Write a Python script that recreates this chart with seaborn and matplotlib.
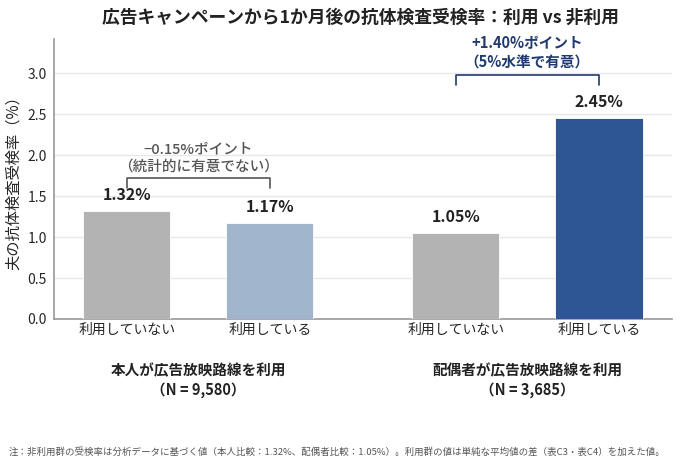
import numpy as np
import pandas as pd
import matplotlib.pyplot as plt
import seaborn as sns

# data
groups = ['本人が広告放映路線を利用\n（N = 9,580）', '配偶者が広告放映路線を利用\n（N = 3,685）']
tick_labels = ['利用していない', '利用している', '利用していない', '利用している']
rates = [1.32, 1.17, 1.05, 2.45]
diff_labels = ['−0.15%ポイント\n（統計的に有意でない）', '+1.40%ポイント\n（5%水準で有意）']
bar_pos = [0, 1, 2.3, 3.3]
colors = ['#b3b3b3', '#a0b5cc', '#b3b3b3', '#2e5594']

sns.set_style('white')
plt.rcParams['font.family'] = ['Noto Sans CJK JP', 'DejaVu Sans']

df = pd.DataFrame({'pos': bar_pos, 'rate': rates, 'label': tick_labels})

fig = plt.figure(figsize=(6.8, 4.65), dpi=100)
ax = fig.add_axes([0.079, 0.314, 0.909, 0.602])

ax.bar(df['pos'], df['rate'], width=0.61, color=colors, edgecolor='white', linewidth=0.6, zorder=3)

ax.set_xlim(-0.51, 3.81)
ax.set_ylim(0, 3.42)
ax.set_yticks(np.arange(0, 3.01, 0.5))
ax.set_yticklabels([f'{v:.1f}' for v in np.arange(0, 3.01, 0.5)], fontsize=10)
ax.set_xticks(bar_pos)
ax.set_xticklabels(tick_labels, fontsize=10)
ax.tick_params(axis='x', length=0, pad=3)
ax.tick_params(axis='y', length=3, color='#555555', pad=2)
ax.grid(axis='y', color='#e8e8e8', linewidth=1, zorder=0)
ax.set_ylabel('夫の抗体検査受検率（%）', fontsize=11, labelpad=4)
sns.despine(ax=ax)
for s in ['left', 'bottom']:
    ax.spines[s].set_color('#999999')
    ax.spines[s].set_linewidth(1.2)

# value labels
for x, v in zip(bar_pos, rates):
    ax.text(x, v + 0.1, f'{v:.2f}%', ha='center', va='bottom', fontsize=11.5, fontweight='bold', color='#222222')

# brackets
brk = [(0, 1, 1.72, '#555555', 'medium'), (2.3, 3.3, 2.98, '#1f3a6e', 'bold')]
for (x0, x1, y, c, w), txt in zip(brk, diff_labels):
    ax.plot([x0, x0, x1, x1], [y - 0.12, y, y, y - 0.12], color=c, lw=1.2, clip_on=False, zorder=4)
    ax.text((x0 + x1) / 2, y + 0.06, txt, ha='center', va='bottom', fontsize=10.5,
            fontweight=w, color=c, linespacing=1.3)

# group labels
for gx, g in zip([0.5, 2.8], groups):
    ax.text(gx, -0.53, g, ha='center', va='top', fontsize=10.5, fontweight='bold', color='#222222', linespacing=1.25)

fig.suptitle('広告キャンペーンから1か月後の抗体検査受検率：利用 vs 非利用', x=0.53, y=0.982,
             fontsize=12.8, fontweight='bold', color='#222222')
fig.text(0.012, 0.028, '注：非利用群の受検率は分析データに基づく値（本人比較：1.32%、配偶者比較：1.05%）。利用群の値は単純な平均値の差（表C3・表C4）を加えた値。',
         fontsize=6.8, color='#555555', ha='left', va='center')

fig.savefig('out.png', dpi=100)
